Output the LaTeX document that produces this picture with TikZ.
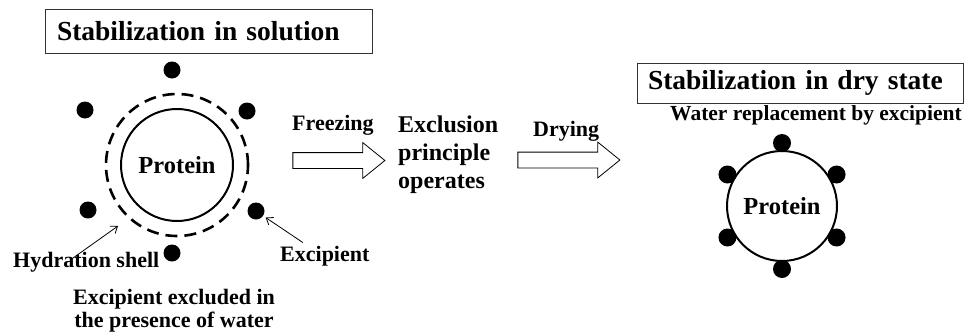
\documentclass[tikz,border=0pt]{standalone}
\usepackage{fontspec}
\setmainfont{Liberation Serif}
\usetikzlibrary{shapes.arrows,arrows.meta}

\tikzset{
  titlebox/.style={draw=black!80, line width=0.8pt, align=left, inner ysep=0pt,
    font=\fontsize{27.5}{33}\selectfont\bfseries},
  lbl/.style={inner sep=0pt, font=\fontsize{22}{23}\selectfont\bfseries},
  protein/.style={circle, draw, line width=2pt, inner sep=0pt,
    font=\fontsize{24.5}{29}\selectfont\bfseries},
  dot/.style={circle, fill, inner sep=0pt, minimum size=17pt},
  blockarrow/.style={single arrow, draw, line width=0.8pt, inner xsep=0pt, inner ysep=7.5pt,
    single arrow head extend=10pt, single arrow tip angle=78},
  pointer/.style={line width=0.8pt, -{Straight Barb[length=6pt,width=9pt]}}
}

\begin{document}
\begin{tikzpicture}[x=1pt,y=-1pt]
  \useasboundingbox (0,0) rectangle (968,335);
  % solution side
  \node[titlebox, text width=303pt, inner xsep=12pt, minimum height=44pt] (soltitle) at (208.5,31) {Stabilization in solution};
  \node[protein, minimum size=112pt] (lprot) at (177,165) {Protein};
  \node[circle, draw, line width=2.6pt, dash pattern=on 12pt off 7pt, minimum size=142pt] (shell) at (177,165) {};
  \node[dot] (ltop) at (172,70) {};
  \node[dot] (lul) at (85,110) {};
  \node[dot] (lur) at (247,111) {};
  \node[dot] (lll) at (88,210) {};
  \node[dot] (llr) at (256,211) {};
  \node[dot] (lbot) at (172,253) {};
  \node[lbl, anchor=base west] (hlabel) at (13,267) {Hydration shell};
  \node[lbl, anchor=base west] (exlabel) at (280,261) {Excipient};
  \node[lbl, anchor=north, align=center] (exclnote) at (174,289.5) {Excipient excluded in\\the presence of water};
  \coordinate (htip) at (118,226);
  \draw[pointer] ([shift={(-14,7)}]hlabel.north) -- (htip);
  \draw[pointer, shorten >=3pt] ([shift={(-22,-3)}]exlabel.north) -- (llr);
  % middle
  \node[lbl, anchor=base west] (freeze) at (292,130) {Freezing};
  \node[blockarrow, minimum height=92pt] (freezearrow) at (334,160.5) {};
  \node[anchor=north west, align=left, inner sep=0pt, font=\fontsize{24}{28}\selectfont\bfseries] (exclusion) at (398,115.5) {Exclusion\\principle\\operates};
  \node[lbl, anchor=base west] (dry) at (533,136) {Drying};
  \node[blockarrow, minimum height=102pt] (dryarrow) at (564,160) {};
  % dry state side
  \node[titlebox, text width=304pt, inner xsep=11pt, minimum height=40pt] (drytitle) at (800,83) {Stabilization in dry state};
  \node[lbl, anchor=base west, font=\fontsize{21.5}{23}\selectfont\bfseries] (replace) at (670,120) {Water replacement by excipient};
  \node[protein, minimum size=110pt] (rprot) at (782,206) {Protein};
  \foreach \a [count=\i] in {90,30,-30,-90,-150,150}
    \node[dot, minimum size=18pt] (rdot\i) at ([shift={(\a:63)}]rprot.center) {};
\end{tikzpicture}
\end{document}
